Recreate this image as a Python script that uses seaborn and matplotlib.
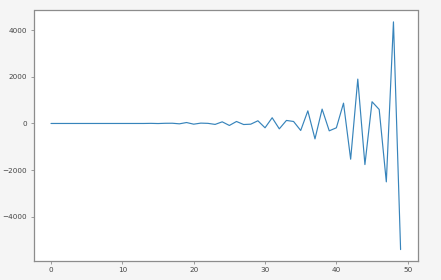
import matplotlib
matplotlib.use("Agg")
import matplotlib.pyplot as plt
import seaborn as sns
import numpy as np
import pandas as pd

steps = list(range(50))
values = [0, 0, 0, 0, 0, 0, 0, 0, 0, 0,
          0, 0, 0, 0, 5, -3, 8, 10, -15, 40,
          -30, 15, 5, -40, 70, -85, 85, -45, -30, 115,
          -185, 245, -230, 130, 85, -300, 540, -660, 615, -315,
          -185, 870, -1530, 1900, -1760, 930, 600, -2500, 4350, -5400]
xticks = [0, 10, 20, 30, 40, 50]
yticks = [-4000, -2000, 0, 2000, 4000]

sns.set_style("white")
plt.rcParams['font.family'] = ['DejaVu Sans']

df = pd.DataFrame({"step": steps, "value": values})

fig = plt.figure(figsize=(4.41, 2.80), dpi=100, facecolor="#f5f5f5")
ax = fig.add_axes([0.076, 0.068, 0.872, 0.8945])
ax.set_facecolor("white")
sns.lineplot(data=df, x="step", y="value", ax=ax, color="#3784bb", linewidth=0.85)
ax.set_xlabel("")
ax.set_ylabel("")
ax.set_xticks(xticks)
ax.set_yticks(yticks)
ax.set_xticklabels([str(t) for t in xticks])
ax.set_yticklabels([f"\u2212{abs(t)}" if t < 0 else str(t) for t in yticks])
ax.margins(x=0.05, y=0.05)
for s in ax.spines.values():
    s.set_visible(True)
    s.set_color("#8c8c8c")
    s.set_linewidth(0.9)
ax.tick_params(axis="both", which="both", length=2.5, width=0.6, color="#8c8c8c",
               labelsize=5.2, labelcolor="#444444", pad=2,
               bottom=True, left=True)
fig.savefig("out.png", dpi=100, facecolor=fig.get_facecolor())
